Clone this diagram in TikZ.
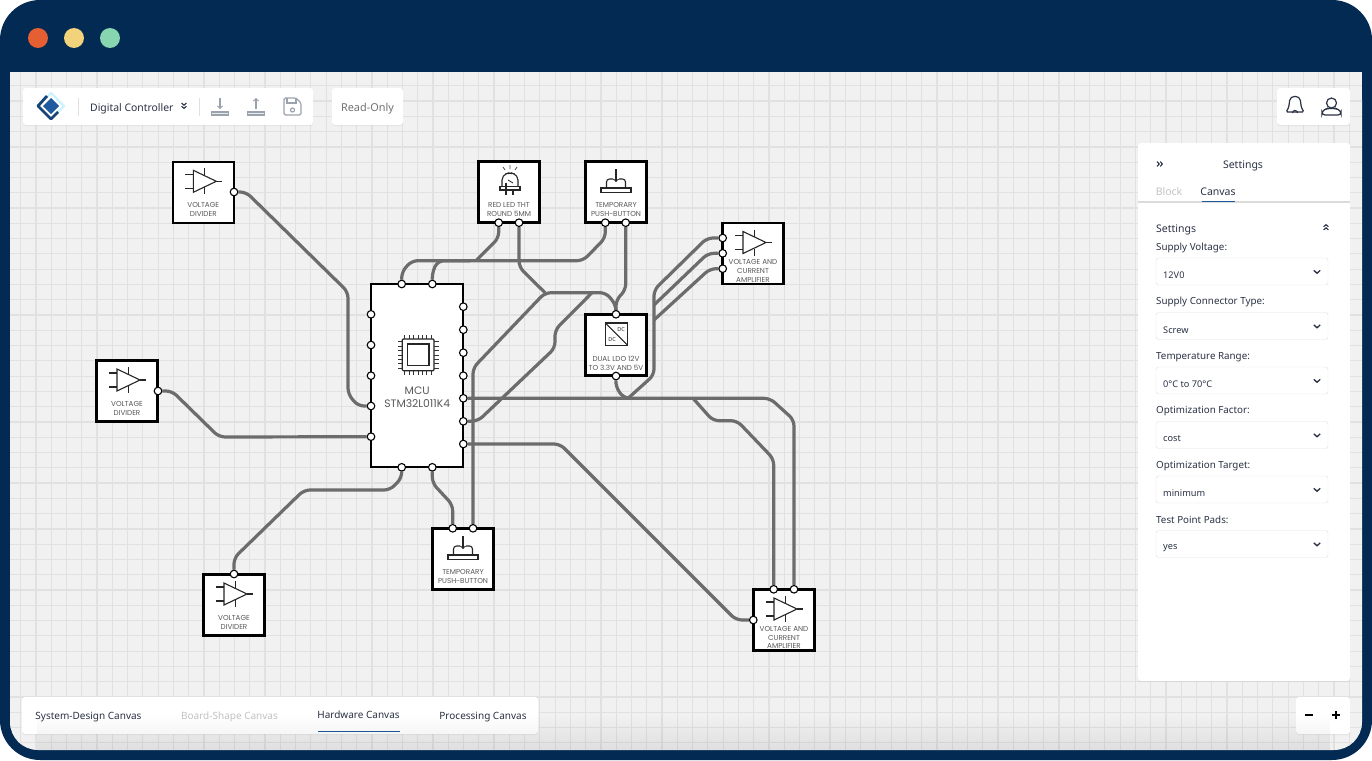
\documentclass[tikz,border=0pt]{standalone}
\usepackage{fontspec}
\setmainfont{Noto Sans}
\newfontfamily\blockfont{Poppins}
\usetikzlibrary{calc}
\usetikzlibrary{backgrounds}
\usetikzlibrary{shadows}
\usetikzlibrary{fadings}

\definecolor{navy}{HTML}{022A53}
\definecolor{canvasbg}{HTML}{F1F1F1}
\definecolor{gridline}{HTML}{E1E1E1}
\definecolor{wiregray}{HTML}{6C6C6C}
\definecolor{uitext}{HTML}{2B3245}
\definecolor{uimute}{HTML}{C3C3C3}
\definecolor{uiicon}{HTML}{9AA3AD}
\definecolor{uiblue}{HTML}{1F5A9E}

\tikzset{
  block/.style={draw=black, fill=white, line width=2.2pt, minimum width=61pt, minimum height=61pt, inner sep=0pt},
  blocklbl/.style={font=\blockfont\fontsize{7.2}{8.8}\selectfont, text=black!65, align=center, inner sep=0pt},
  port/.style={circle, draw=black, fill=white, line width=1.1pt, minimum size=7.6pt, inner sep=0pt},
  wire/.style={draw=wiregray, line width=3.2pt, rounded corners=6pt},
  icon/.style={draw=black!85, line width=1.1pt},
  panel/.style={fill=white, rounded corners=3pt, inner sep=0pt, drop shadow={opacity=0.13, shadow xshift=0pt, shadow yshift=-1pt}},
  uilbl/.style={font=\fontsize{#1}{#1}\selectfont, text=uitext, inner sep=0pt, yshift=-1.7pt},
  uilbl/.default=10,
  field/.style={draw=black!12, fill=white, rounded corners=2.5pt, minimum width=172pt, minimum height=27pt, inner sep=0pt},
  opampicon/.pic={
    \draw [icon, fill=white] (-10,-22) -- (13,-11) -- (-10,0) -- cycle;
    \draw [icon] (-18,-18) -- (-10,-18);
    \draw [icon] (-18,-4) -- (-10,-4);
    \draw [icon] (13,-11) -- (19,-11);
    \draw [icon] (1.5,-24) -- (1.5,-17);
    \draw [icon] (1.5,-5) -- (1.5,2);
  },
  pushicon/.pic={
    \draw [icon] (-15,-4) rectangle (15,0.5);
    \draw [icon, rounded corners=3pt] (-9.5,-4) -- (-9.5,-13) -- (-3,-13);
    \draw [icon, rounded corners=3pt] (9.5,-4) -- (9.5,-13) -- (3,-13);
    \draw [icon, ->] (0,-23) -- (0,-10);
  },
  chevdown/.pic={
    \draw [uitext, line width=1.3pt] (-3.2,-1.7) -- (0,1.3) -- (3.2,-1.7);
  },
  dblchev/.pic={
    \draw [uitext, line width=1.1pt] (-2.4,-3) -- (0,-0.8) -- (2.4,-3);
    \draw [uitext, line width=1.1pt] (-2.4,0.2) -- (0,2.4) -- (2.4,0.2);
  },
}

\begin{document}
\begin{tikzpicture}[x=1pt,y=-1pt]
  \useasboundingbox (0,0) rectangle (1372,760);

  % window frame and grid
  \begin{scope}[on background layer]
    \fill [white] (0,0) rectangle (1372,760);
    \fill [navy, rounded corners=40pt] (0,0) rectangle (1372,760);
    \fill [canvasbg, rounded corners=28pt] (10,72) -- (10,750) -- (1362,750) -- (1362,72) [sharp corners] -- cycle;
    \fill [canvasbg] (10,72) rectangle (1362,120);
    \begin{scope}
      \clip [rounded corners=28pt] (10,60) -- (10,750) -- (1362,750) -- (1362,60) -- cycle;
      \foreach \k in {1,...,88}
        \draw [gridline, line width=1.2pt] ({5.43+15.27*\k},72) -- ({5.43+15.27*\k},750);
      \foreach \k in {1,...,44}
        \draw [gridline, line width=1.2pt] (10,{70.5+15.28*\k}) -- (1362,{70.5+15.28*\k});
    \end{scope}
    \fill [navy] (0,60) rectangle (1372,72);
  \end{scope}
  \fill [color={rgb,255:red,229;green,95;blue,51}] (38,38) circle (10);
  \fill [color={rgb,255:red,242;green,210;blue,123}] (74,38) circle (10);
  \fill [color={rgb,255:red,135;green,214;blue,176}] (110,38) circle (10);

  % top bars
  \node [panel, minimum width=290pt, minimum height=37pt] (toolbar) at (168,106.5) {};
  \node [panel, minimum width=71pt, minimum height=37pt] (readonly) at (367.5,106.5) {};
  \node [panel, minimum width=73pt, minimum height=37pt] (userbar) at (1313.5,106.5) {};
  \draw [blue!25!cyan!20!white, line width=2.4pt, line join=round] (51,93) -- (64,106) -- (51,119) -- (38,106) -- cycle;
  \draw [uiblue!75!black, line width=2.8pt, line join=round] (47,96) -- (38,106) -- (51,119) -- (58,112);
  \fill [uiblue] (51,98) -- (59,106) -- (51,114) -- (43,106) -- cycle;
  \draw [black!12] (78,98) -- (78,116);
  \draw [black!12] (199.5,98) -- (199.5,116);
  \node [uilbl=10.4, anchor=west] (title) at (90,107) {Digital Controller};
  \pic at (184,106) {dblchev};
  \draw [uiicon, line width=1.2pt, ->] (220,98) -- (220,109);
  \draw [uiicon, line width=1.2pt, fill=uiicon!25] (211.5,112) rectangle (228.5,115);
  \draw [uiicon, line width=1.2pt, ->] (256,109) -- (256,98);
  \draw [uiicon, line width=1.2pt, fill=uiicon!25] (247.5,112) rectangle (264.5,115);
  \draw [uiicon, line width=1.2pt, rounded corners=1.5pt] (284,98) -- (296,98) -- (301,103) -- (301,115) -- (284,115) -- cycle;
  \draw [uiicon, line width=1.2pt] (287,98) -- (287,103) -- (296,103) -- (296,98);
  \draw [uiicon, line width=1.2pt] (292.5,110) circle (2);
  \node [uilbl=10.9, text=black!55, anchor=center] (readlbl) at (367.5,107) {Read-Only};

  % bell and user
  \draw [uitext, line width=1.2pt, rounded corners=1.5pt] (1286,112) -- (1288.5,108) -- (1289.5,102) .. controls (1290,95) and (1300,95) .. (1300.5,102) -- (1301.5,108) -- (1304,112) -- cycle;
  \draw [uitext, line width=1.2pt] (1292.5,113) arc (180:0:2.5 and -2.5);
  \draw [uitext, line width=1.2pt] (1331.5,103) circle (5);
  \draw [uitext, line width=1.2pt, rounded corners=3pt] (1322,115) -- (1322,111) -- (1327,108.5) -- (1336,108.5) -- (1341,111) -- (1341,115) -- cycle;

  % settings panel
  \node [panel, minimum width=212pt, minimum height=538pt] (settings) at (1244,412) {};
  \pic at (1160,164) [rotate=90] {dblchev};
  \node [uilbl=10.5] (setttitle) at (1243,164.5) {Settings};
  \node [uilbl=10.5, text=uimute] (tabblock) at (1169,190) {Block};
  \node [uilbl=10.5] (tabcanvas) at (1218,190) {Canvas};
  \draw [black!14, line width=1.2pt] (settings.west |- 0,202) -- (settings.east |- 0,202);
  \draw [uiblue, line width=1.2pt] (1201.5,201.5) -- (1235,201.5);
  \node [uilbl=10.5, anchor=west] (settsub) at (1156,228) {Settings};
  \pic at (1326,227) [yscale=-1] {dblchev};
  \foreach \y/\lab/\val [count=\n] in {246/Supply Voltage:/12V0, 300.5/Supply Connector Type:/Screw, 355/Temperature Range:/0°C to 70°C, 409.5/Optimization Factor:/cost, 464/Optimization Target:/minimum, 518.5/Test Point Pads:/yes} {
    \node [uilbl=9.8, anchor=west] (lab\n) at (1156,\y) {\lab};
    \node [field] (fld\n) at (1242,\y+25.5) {};
    \node [uilbl=9.2, anchor=west] (val\n) at (1163,\y+27.7) {\val};
    \pic at (1317,\y+26) {chevdown};
  }

  % bottom bars
  \node [panel, minimum width=516pt, minimum height=37pt] (tabs) at (280,715.5) {};
  \node [uilbl=10] (tabsys) at (88.5,715) {System-Design Canvas};
  \node [uilbl=10, text=uimute] (tabboard) at (229.5,715) {Board-Shape Canvas};
  \node [uilbl=10] (tabhw) at (358.5,713.5) {Hardware Canvas};
  \node [uilbl=10] (tabproc) at (483,715) {Processing Canvas};
  \draw [uiblue, line width=1pt] (318,731.5) -- (399.5,731.5);
  \node [panel, minimum width=54pt, minimum height=37pt] (zoombar) at (1323,715.5) {};
  \draw [black, line width=1.5pt] (1305,715) -- (1313,715);
  \draw [black, line width=1.5pt] (1332,715) -- (1340,715) (1336,711) -- (1336,719);

  % blocks
  \node [block] (vdA) at (203.3,192.3) {};
  \node [block] (vdB) at (127,391) {};
  \node [block] (vdC) at (234,605) {};
  \node [block] (led) at (509,192) {};
  \node [block] (tpbA) at (616,192) {};
  \node [block] (dcdc) at (616,345) {};
  \node [block] (ampA) at (753,253.5) {};
  \node [block] (ampB) at (784,620) {};
  \node [block] (tpbB) at (463,559) {};
  \node [block, minimum width=92.3pt, minimum height=183.3pt] (mcu) at (417.2,375.7) {};

  % icons
  \pic at (vdA) {opampicon};
  \pic at (vdB) {opampicon};
  \pic at (vdC) {opampicon};
  \pic at (ampA) {opampicon};
  \pic at (ampB) {opampicon};
  \pic at (tpbA) {pushicon};
  \pic at (tpbB) {pushicon};
  % cpu
  \draw [icon, line width=1.2pt, rounded corners=1pt] (402.3,339) rectangle (434,370.7);
  \draw [icon, line width=1.2pt] (407.5,344) rectangle (429,365.7);
  \foreach \k in {-3,...,3} {
    \draw [black!80, line width=0.7pt] ({418+4.4*\k},339) -- ({418+4.4*\k},334.5);
    \draw [black!80, line width=0.7pt] ({418+4.4*\k},370.7) -- ({418+4.4*\k},375.2);
    \draw [black!80, line width=0.7pt] (402.3,{355+4.4*\k}) -- (398,{355+4.4*\k});
    \draw [black!80, line width=0.7pt] (434,{355+4.4*\k}) -- (438.5,{355+4.4*\k});
  }
  % led
  \draw [icon] (500,186.7) rectangle (520,190);
  \draw [icon, rounded corners=5pt] (502,186.7) -- (502,175) -- (510,172.5) -- (518,175) -- (518,186.7);
  \draw [icon] (506,183) -- (506,195) (513,190) -- (513,195);
  \draw [icon, line width=0.8pt] (508,180) -- (513,183);
  \draw [black!70, line width=0.8pt] (510,165) -- (510,169) (503,167) -- (505,170) (517,167) -- (515,170);
  % dc-dc
  \draw [icon, line width=1.3pt] (605.3,323) rectangle (627.7,345.3);
  \draw [icon] (605.3,323) -- (627.7,345.3);
  \node [font=\bfseries\fontsize{5.5}{5.5}\selectfont, inner sep=0pt, text=black!85] (dcup) at (621,329.5) {DC};
  \node [font=\bfseries\fontsize{5.5}{5.5}\selectfont, inner sep=0pt, text=black!85] (dclow) at (612,339.5) {DC};

  % block labels
  \node [blocklbl] (vdAlbl) at ($(vdA)+(0,17.5)$) {VOLTAGE\\DIVIDER};
  \node [blocklbl] (vdBlbl) at ($(vdB)+(0,17.5)$) {VOLTAGE\\DIVIDER};
  \node [blocklbl] (vdClbl) at ($(vdC)+(0,17.5)$) {VOLTAGE\\DIVIDER};
  \node [blocklbl] (ledlbl) at ($(led)+(0,17.5)$) {RED LED THT\\ROUND 5MM};
  \node [blocklbl] (tpbAlbl) at ($(tpbA)+(0,17.5)$) {TEMPORARY\\PUSH-BUTTON};
  \node [blocklbl] (tpbBlbl) at ($(tpbB)+(0,17.5)$) {TEMPORARY\\PUSH-BUTTON};
  \node [blocklbl] (dcdclbl) at ($(dcdc)+(0,18)$) {DUAL LDO 12V\\TO 3.3V AND 5V};
  \node [blocklbl] (ampAlbl) at ($(ampA)+(0,17.5)$) {VOLTAGE AND\\CURRENT\\AMPLIFIER};
  \node [blocklbl] (ampBlbl) at ($(ampB)+(0,17.5)$) {VOLTAGE AND\\CURRENT\\AMPLIFIER};
  \node [blocklbl, font=\blockfont\fontsize{10.8}{12.8}\selectfont] (mculbl) at (417.2,397) {MCU\\STM32L011K4};

  % ports
  \foreach \n/\y in {1/314.3, 2/345, 3/375.7, 4/406, 5/436.7}
    \node [port] (mcuL\n) at (371,\y) {};
  \foreach \n/\y in {1/306.7, 2/329.7, 3/352.7, 4/375.7, 5/398.3, 6/421.3, 7/444}
    \node [port] (mcuR\n) at (463.3,\y) {};
  \node [port] (mcuT1) at (401.7,284) {};
  \node [port] (mcuT2) at (432.3,284) {};
  \node [port] (mcuB1) at (401.7,467.3) {};
  \node [port] (mcuB2) at (432.3,467.3) {};
  \node [port] (vdAout) at (234,192) {};
  \node [port] (vdBout) at (158,391) {};
  \node [port] (vdCout) at (234,574) {};
  \node [port] (ledB1) at (498.7,222.7) {};
  \node [port] (ledB2) at (519,222.7) {};
  \node [port] (tpbAb1) at (605.3,222.7) {};
  \node [port] (tpbAb2) at (625.7,222.7) {};
  \node [port] (dcdcT) at (616,314.3) {};
  \node [port] (dcdcB) at (616,376) {};
  \node [port] (ampAi1) at (722.7,238) {};
  \node [port] (ampAi2) at (722.7,253.3) {};
  \node [port] (ampAi3) at (722.7,268.7) {};
  \node [port] (ampBt1) at (773.7,589.3) {};
  \node [port] (ampBt2) at (794,589.3) {};
  \node [port] (ampBi) at (753.3,620) {};
  \node [port] (tpbBt1) at (452.7,528.3) {};
  \node [port] (tpbBt2) at (473,528.3) {};

  % wires
  \begin{scope}[on background layer]
    \draw [wire] (vdAout) -- (246,192) -- (348,292) -- (348,394) -- (358,406) -- (mcuL4);
    \draw [wire] (vdBout) -- (172,391) -- (219,437) -- (mcuL5);
    \draw [wire] (vdCout) -- (234,558) -- (304,490) -- (390,490) -- (401.7,478) -- (mcuB1);
    \draw [wire] (tpbBt1) -- (452.7,505) -- (432.3,483) -- (mcuB2);
    \draw [wire] (tpbBt2) -- (473,368) -- (545,292.7) -- (606,292.7) -- (616,305) -- (dcdcT);
    \draw [wire] (ledB2) -- (519,267) -- (545,292.7);
    \draw [wire] (tpbAb2) -- (625.7,290) -- (616,300) -- (dcdcT);
    \draw [wire] (mcuR6) -- (478,421) -- (555,348) -- (555,330) -- (592,292.7);
    \draw [wire] (tpbAb1) -- (605.3,238) -- (583,260.7) -- (411.7,260.7) -- (401.7,272) -- (mcuT1);
    \draw [wire] (ledB1) -- (498.7,238) -- (476,260.7);
    \draw [wire] (mcuT2) -- (432.3,272) -- (438,260.7) -- (470,260.7);
    \draw [wire] (mcuR5) -- (770,398.3) -- (794,420) -- (ampBt2);
    \draw [wire] (693,398.3) -- (713,420.7) -- (737,420.7) -- (773.7,459) -- (ampBt1);
    \draw [wire] (dcdcB) -- (615.7,387) -- (624,398.3) -- (632,398.3);
    \draw [wire] (628,398.3) -- (654,375) -- (654,290) -- (707,238) -- (ampAi1);
    \draw [wire] (654,305) -- (708,253.3) -- (ampAi2);
    \draw [wire] (654,320) -- (710,268.7) -- (ampAi3);
    \draw [wire] (mcuR7) -- (560,444) -- (736,620) -- (ampBi);
  \end{scope}

  % faint darkening along the bottom edge
  \fill [black, opacity=0.07, path fading=north] (38,715) rectangle (1334,750);
\end{tikzpicture}
\end{document}
